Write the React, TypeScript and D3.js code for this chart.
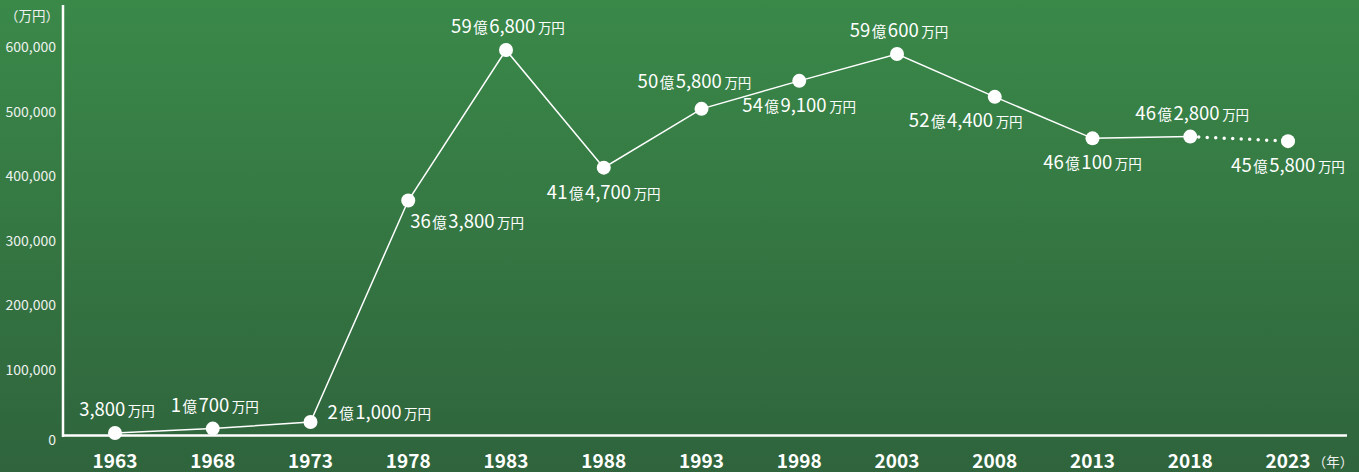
import React from "react";
import * as d3 from "d3";

const years = ["1963", "1968", "1973", "1978", "1983", "1988", "1993", "1998", "2003", "2008", "2013", "2018", "2023"];
const values = [3800, 10700, 21000, 363800, 596800, 414700, 505800, 549100, 590600, 524400, 460100, 462800, 455800];
const placements = ["above", "above", "right", "belowRight", "above", "below", "aboveLeft", "below", "above", "belowLeft", "below", "above", "below"];
const yTicks = [0, 100000, 200000, 300000, 400000, 500000, 600000];
const projectedFrom = "2018";

const W = 1359;
const H = 472;
const FONT = "'Noto Sans CJK JP', 'Noto Sans', sans-serif";

export default function App() {
  const x = d3.scalePoint<string>().domain(years).range([115, 1288]);
  const y = d3.scaleLinear().domain([0, 600000]).range([435.5, 48]);
  const fmt = d3.format(",");

  const pts = years.map((yr, i) => ({ yr, v: values[i], p: placements[i], cx: x(yr)!, cy: y(values[i]) }));
  const splitIdx = years.indexOf(projectedFrom);
  const line = d3.line<{ cx: number; cy: number }>().x((d) => d.cx).y((d) => d.cy);
  const solid = line(pts.slice(0, splitIdx + 1)) || "";
  const dotted = line(pts.slice(splitIdx)) || "";

  const labelPos = (p: string, cx: number, cy: number) => {
    switch (p) {
      case "above":
        return { tx: cx + 2, ty: cy - 17, anchor: "middle" };
      case "aboveLeft":
        return { tx: cx - 7, ty: cy - 21, anchor: "middle" };
      case "below":
        return { tx: cx, ty: cy + 31, anchor: "middle" };
      case "belowLeft":
        return { tx: cx - 29, ty: cy + 30, anchor: "middle" };
      case "right":
        return { tx: cx + 17, ty: cy - 3, anchor: "start" };
      default:
        return { tx: cx + 2, ty: cy + 27, anchor: "start" };
    }
  };

  return (
    <svg width={W} height={H} style={{ display: "block", position: "absolute", left: 0, top: 0 }} fontFamily={FONT}>
      <defs>
        <linearGradient id="bg" x1="0" y1="0" x2="0" y2="1">
          <stop offset="0" stopColor="#3a8949" />
          <stop offset="1" stopColor="#2f643c" />
        </linearGradient>
      </defs>
      <rect x={0} y={0} width={W} height={H} fill="url(#bg)" />

      {/* y-axis */}
      <line x1={63} x2={63} y1={5} y2={437} stroke="#fff" strokeWidth={2.5} />
      {/* x-axis */}
      <line x1={62} x2={1347} y1={435.5} y2={435.5} stroke="#fff" strokeWidth={2.5} />

      <text x={59} y={21} textAnchor="end" fill="#f0f0f0" fontSize={13.5}>（万円）</text>
      {yTicks.map((t) => (
        <text key={t} x={56} y={y(t) + (t === 0 ? 9 : 4)} textAnchor="end" fill="#eef2ee" fontSize={14}>
          {fmt(t)}
        </text>
      ))}

      {years.map((yr) => (
        <text key={yr} x={x(yr)!} y={468} textAnchor="middle" fill="#fff" fontSize={19} fontWeight="bold">
          {yr}
        </text>
      ))}
      <text x={1333} y={467} textAnchor="middle" fill="#f0f0f0" fontSize={13.5}>（年）</text>

      <path d={solid} fill="none" stroke="#fff" strokeWidth={1.5} />
      <path d={dotted} fill="none" stroke="#fff" strokeWidth={3.5} strokeLinecap="round" strokeDasharray="0 8.5" />

      {pts.map((d) => (
        <circle key={d.yr} cx={d.cx} cy={d.cy} r={7} fill="#fff" />
      ))}

      {pts.map((d) => {
        const { tx, ty, anchor } = labelPos(d.p, d.cx, d.cy);
        const oku = Math.floor(d.v / 10000);
        const man = d.v % 10000;
        return (
          <text key={d.yr} x={tx} y={ty} textAnchor={anchor} fill="#fff">
            {oku > 0 && <tspan fontSize={18.5}>{oku}</tspan>}
            {oku > 0 && <tspan fontSize={14.5} dx={1.5}>億</tspan>}
            <tspan fontSize={18.5} dx={oku > 0 ? 1.5 : 0}>{fmt(man)}</tspan>
            <tspan fontSize={13.5} dx={2.5}>万円</tspan>
          </text>
        );
      })}
    </svg>
  );
}
